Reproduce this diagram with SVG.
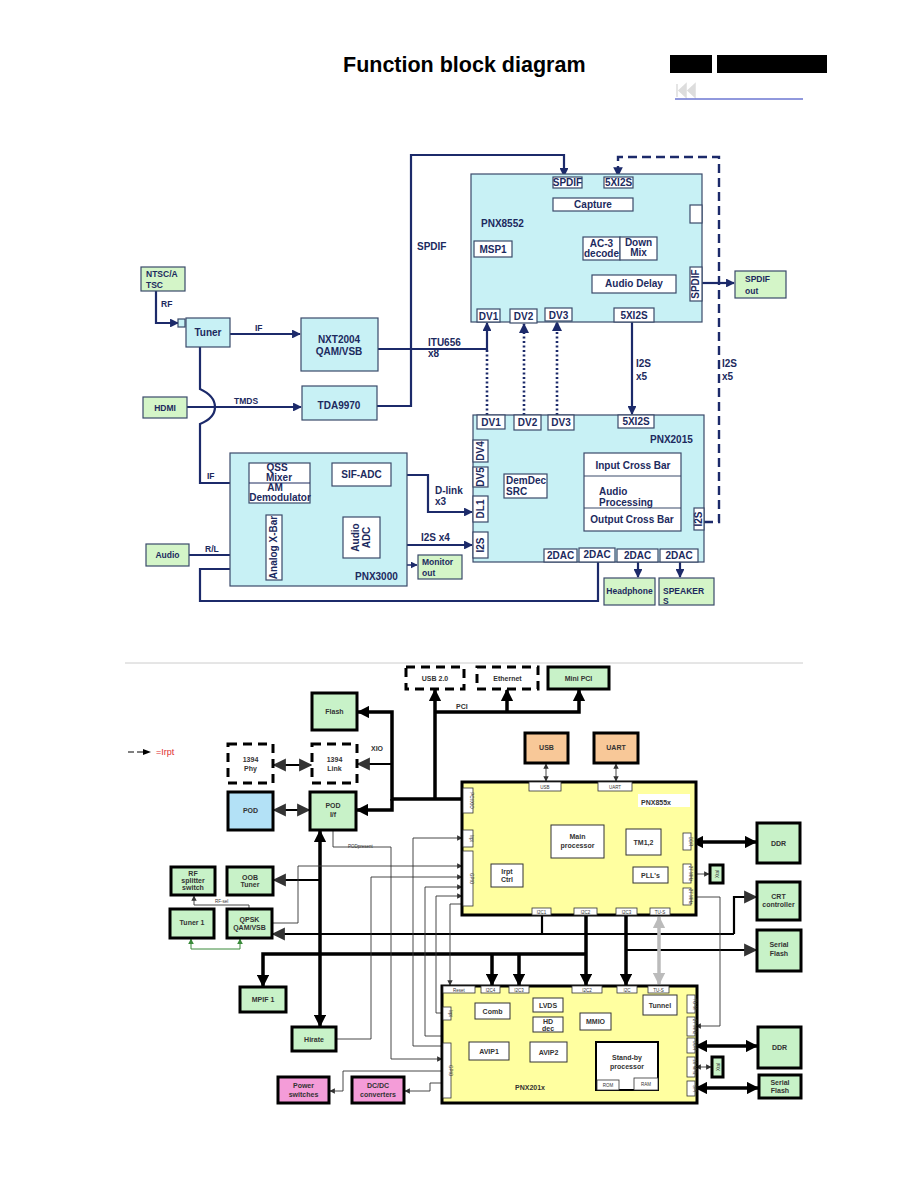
<svg xmlns="http://www.w3.org/2000/svg" width="918" height="1188" viewBox="0 0 918 1188">
<defs>
<style>
.t{font-family:"Liberation Sans",Arial,sans-serif;font-weight:bold;fill:#1c2a5e;font-size:10px}
.s{font-size:8.5px}
.k{font-family:"Liberation Sans",Arial,sans-serif;font-weight:bold;fill:#333;font-size:7px}
.kp{font-size:4.5px;font-weight:normal}
.cy{fill:#c8f1f5;stroke:#3a4a6a;stroke-width:1.2}
.gr{fill:#d4f5c8;stroke:#3a4a6a;stroke-width:1.2}
.wh{fill:#fff;stroke:#3a4a6a;stroke-width:1.2}
.c{fill:none;stroke:#1c2a6a;stroke-width:2.2}
.ci{fill:none;stroke:#1c2a6a;stroke-width:1.4}
.dot{fill:none;stroke:#1c2a6a;stroke-width:2.6;stroke-dasharray:2 2.5}
.dash{fill:none;stroke:#1c2a6a;stroke-width:2.4;stroke-dasharray:9 5}
.bg{fill:#c8f2c8;stroke:#000;stroke-width:3}
.bo{fill:#f8c898;stroke:#000;stroke-width:3}
.bp{fill:#f49cd8;stroke:#000;stroke-width:3}
.bb{fill:#b3e1f6;stroke:#000;stroke-width:3}
.bd{fill:#fff;stroke:#000;stroke-width:3;stroke-dasharray:9 6}
.by{fill:#ffffa0;stroke:#000;stroke-width:3}
.bw{fill:#fff;stroke:#333;stroke-width:0.8}
.bw2{fill:#fff;stroke:#333;stroke-width:1}
.L{fill:none;stroke:#000;stroke-width:3.5}
.M{fill:none;stroke:#000;stroke-width:2.2}
.T{fill:none;stroke:#333;stroke-width:0.9}
.G{fill:none;stroke:#bbb;stroke-width:3.5}
</style>
<marker id="a" viewBox="0 0 10 10" refX="9" refY="5" markerWidth="4" markerHeight="4" orient="auto"><path d="M0 0L10 5L0 10z" fill="#1c2a6a"/></marker>
<marker id="as" viewBox="0 0 10 10" refX="9" refY="5" markerWidth="5" markerHeight="5" orient="auto"><path d="M0 0L10 5L0 10z" fill="#1c2a6a"/></marker>
<marker id="b" viewBox="0 0 10 10" refX="9" refY="5" markerWidth="3.5" markerHeight="3.5" orient="auto-start-reverse"><path d="M0 0L10 5L0 10z" fill="#000"/></marker>
<marker id="bt" viewBox="0 0 10 10" refX="9" refY="5" markerWidth="6" markerHeight="6" orient="auto-start-reverse"><path d="M0 0L10 5L0 10z" fill="#333"/></marker>
<marker id="bg" viewBox="0 0 10 10" refX="9" refY="5" markerWidth="6" markerHeight="6" orient="auto-start-reverse"><path d="M0 0L10 5L0 10z" fill="#3a8a3a"/></marker>
<marker id="gy" viewBox="0 0 10 10" refX="9" refY="5" markerWidth="3.5" markerHeight="3.5" orient="auto-start-reverse"><path d="M0 0L10 5L0 10z" fill="#bbb"/></marker>
</defs>
<rect width="918" height="1188" fill="#fff"/>

<g id="header">
<text x="343" y="72" font-family="Liberation Sans,Arial,sans-serif" font-weight="bold" font-size="21.5" fill="#000">Function block diagram</text>
<rect x="670" y="55" width="42" height="18" fill="#000"/>
<rect x="717" y="55" width="110" height="18" fill="#000"/>
<path d="M677 84V97M686 84L679 90.5L686 97zM695 84L688 90.5L695 97z" fill="#ddd" stroke="#ddd" stroke-width="1.5"/>
<line x1="675" y1="99" x2="803" y2="99" stroke="#2233bb" stroke-width="1"/>
</g>

<g id="top-connectors">
<path class="c" d="M377 406H411V155H564V176" marker-end="url(#a)"/>
<path class="c" d="M378 349H487V323" marker-end="url(#a)"/>
<path class="c" d="M156 291V323H178" marker-end="url(#a)"/>
<path class="c" d="M230 334H300" marker-end="url(#a)"/>
<path class="c" d="M187 407H301" marker-end="url(#a)"/>
<path class="c" d="M200 347V389Q215 396 215 407Q215 418 200 424V483H248" marker-end="url(#a)"/>
<path class="ci" d="M310 473H331" marker-end="url(#as)"/>
<path class="c" d="M391 475H428V512H472" marker-end="url(#a)"/>
<path class="ci" d="M310 492H321V508H253V523H265" marker-end="url(#as)"/>
<path class="ci" d="M282 532H342" marker-end="url(#as)"/>
<path class="c" d="M380 545H472" marker-end="url(#a)"/>
<path class="ci" d="M282 565H417" marker-end="url(#as)"/>
<path class="c" d="M189 555H265" marker-end="url(#a)"/>
<path class="c" d="M598 562V601H200V569H265" marker-end="url(#a)"/>
<path class="dot" d="M487 350V415"/>
<path class="dot" d="M524 415V324" marker-end="url(#a)"/>
<path class="dot" d="M557 415V322" marker-end="url(#a)"/>
<path class="c" d="M632 322V414" marker-end="url(#a)"/>
<path class="dash" d="M704 522H719V157H618V176" marker-end="url(#a)"/>
<path class="ci" d="M567 188V197" marker-end="url(#as)"/>
<path class="ci" d="M618 188V197" marker-end="url(#as)"/>
<path class="ci" d="M512 249H582" marker-end="url(#as)"/>
<path class="ci" d="M604 260V274" marker-end="url(#as)"/>
<path class="ci" d="M641 260V274" marker-end="url(#as)"/>
<path class="ci" d="M633 204H663V274" marker-end="url(#as)"/>
<path class="ci" d="M631 293V307" marker-end="url(#as)"/>
<path class="ci" d="M491 309V258" marker-end="url(#as)"/>
<path class="c" d="M702 283H734" marker-end="url(#a)"/>
<path class="ci" d="M488 511H526V499" marker-end="url(#as)"/>
<path class="ci" d="M522 474V434H619V452" marker-end="url(#as)"/>
<path class="ci" d="M488 545H552V439H603V452" marker-end="url(#as)"/>
<path class="ci" d="M632 428V452" marker-end="url(#as)"/>
<path class="ci" d="M681 518H693" marker-end="url(#as)"/>
<path class="ci" d="M589 531V537H562V548" stroke-dasharray="3 2" marker-end="url(#as)"/>
<path class="ci" d="M600 531V548" marker-end="url(#as)"/>
<path class="ci" d="M635 531V548" marker-end="url(#as)"/>
<path class="ci" d="M670 531V548" marker-end="url(#as)"/>
<path class="c" d="M638 562V577" marker-end="url(#a)"/>
<path class="c" d="M680 562V577" marker-end="url(#a)"/>
</g>

<g id="top-labels">
<text class="t s" x="161" y="307">RF</text>
<text class="t s" x="255" y="331">IF</text>
<text class="t s" x="234" y="404">TMDS</text>
<text class="t" x="417" y="250">SPDIF</text>
<text class="t" x="428" y="346">ITU656</text>
<text class="t" x="428" y="357">x8</text>
<text class="t s" x="207" y="479">IF</text>
<text class="t" x="435" y="494">D-link</text>
<text class="t" x="435" y="505">x3</text>
<text class="t s" x="205" y="552">R/L</text>
<text class="t" x="421" y="541">I2S x4</text>
<text class="t" x="636" y="367">I2S</text>
<text class="t" x="636" y="380">x5</text>
<text class="t" x="722" y="367">I2S</text>
<text class="t" x="722" y="380">x5</text>
</g>

<g id="ntsc"><rect class="gr" x="141" y="267" width="44" height="24"/><text class="t s" x="146" y="277">NTSC/A</text><text class="t s" x="146" y="288">TSC</text></g>
<g id="tuner"><rect class="cy" x="178" y="319" width="7" height="8"/><rect class="cy" x="186" y="318" width="44" height="29"/><text class="t" x="208" y="336" text-anchor="middle">Tuner</text></g>
<g id="nxt2004"><rect class="cy" x="301" y="318" width="77" height="53"/><text class="t" x="339" y="343" text-anchor="middle">NXT2004</text><text class="t" x="339" y="355" text-anchor="middle">QAM/VSB</text></g>
<g id="tda9970"><rect class="cy" x="302" y="386" width="75" height="34"/><text class="t" x="339" y="409" text-anchor="middle">TDA9970</text></g>
<g id="hdmi"><rect class="gr" x="143" y="397" width="44" height="21"/><text class="t s" x="165" y="411" text-anchor="middle">HDMI</text></g>

<g id="pnx8552">
<rect class="cy" x="471" y="174" width="231" height="148"/>
<text class="t" x="481" y="227">PNX8552</text>
<rect class="wh" x="690" y="205" width="12" height="18"/>
</g>
<g id="spdif-in"><rect class="wh" x="553" y="177" width="29" height="11"/><text class="t" x="567.5" y="186" text-anchor="middle" font-size="7.5">SPDIF</text></g>
<g id="i2s-in"><rect class="wh" x="604" y="177" width="29" height="11"/><text class="t" x="618.5" y="186" text-anchor="middle" font-size="8">5XI2S</text></g>
<g id="capture"><rect class="wh" x="553" y="198" width="80" height="13"/><text class="t" x="593" y="208" text-anchor="middle" font-size="8">Capture</text></g>
<g id="msp1"><rect class="wh" x="474" y="241" width="38" height="16"/><text class="t" x="493" y="253" text-anchor="middle">MSP1</text></g>
<g id="ac3"><rect class="wh" x="583" y="237" width="37" height="23"/><text class="t" x="601.5" y="247" text-anchor="middle" font-size="8">AC-3</text><text class="t" x="601.5" y="257" text-anchor="middle" font-size="7">decode</text></g>
<g id="downmix"><rect class="wh" x="620" y="237" width="37" height="23"/><text class="t" x="638.5" y="246" text-anchor="middle" font-size="8">Down</text><text class="t" x="638.5" y="256" text-anchor="middle" font-size="8">Mix</text></g>
<g id="audiodelay"><rect class="wh" x="592" y="275" width="84" height="18"/><text class="t" x="634" y="287" text-anchor="middle" font-size="8">Audio Delay</text></g>
<g id="i2s-out8552"><rect class="wh" x="614" y="308" width="40" height="14"/><text class="t" x="634" y="319" text-anchor="middle" font-size="9">5XI2S</text></g>
<g id="dv1a"><rect class="wh" x="477" y="309" width="23" height="13"/><text class="t" x="488.5" y="320" text-anchor="middle" font-size="9">DV1</text></g>
<g id="dv2a"><rect class="wh" x="510" y="309" width="27" height="14"/><text class="t" x="523.5" y="320" text-anchor="middle" font-size="9">DV2</text></g>
<g id="dv3a"><rect class="wh" x="545" y="308" width="27" height="13"/><text class="t" x="558.5" y="319" text-anchor="middle" font-size="9">DV3</text></g>
<g id="spdif-port"><rect class="wh" x="690" y="267" width="12" height="34"/><text class="t" transform="translate(699 284) rotate(-90)" text-anchor="middle" font-size="7">SPDIF</text></g>
<g id="spdif-out"><rect class="gr" x="735" y="271" width="51" height="27"/><text class="t s" x="745" y="282">SPDIF</text><text class="t s" x="745" y="294">out</text></g>

<g id="pnx2015">
<rect class="cy" x="473" y="415" width="231" height="147"/>
<text class="t" x="650" y="443">PNX2015</text>
</g>
<g id="dv1b"><rect class="wh" x="477" y="415" width="28" height="14"/><text class="t" x="491" y="426" text-anchor="middle" font-size="9">DV1</text></g>
<g id="dv2b"><rect class="wh" x="514" y="415" width="27" height="15"/><text class="t" x="527.5" y="426" text-anchor="middle" font-size="9">DV2</text></g>
<g id="dv3b"><rect class="wh" x="548" y="415" width="26" height="15"/><text class="t" x="561" y="426" text-anchor="middle" font-size="9">DV3</text></g>
<g id="i2s-in2015"><rect class="wh" x="618" y="415" width="36" height="13"/><text class="t" x="636" y="425" text-anchor="middle" font-size="9">5XI2S</text></g>
<g id="dv4"><rect class="wh" x="473" y="440" width="15" height="22"/><text class="t" transform="translate(484 451) rotate(-90)" text-anchor="middle" font-size="8">DV4</text></g>
<g id="dv5"><rect class="wh" x="473" y="467" width="15" height="20"/><text class="t" transform="translate(484 477) rotate(-90)" text-anchor="middle" font-size="8">DV5</text></g>
<g id="dl1"><rect class="wh" x="473" y="496" width="15" height="26"/><text class="t" transform="translate(484 509) rotate(-90)" text-anchor="middle" font-size="8">DL1</text></g>
<g id="i2s-l"><rect class="wh" x="473" y="532" width="15" height="26"/><text class="t" transform="translate(484 545) rotate(-90)" text-anchor="middle" font-size="8">I2S</text></g>
<g id="demdec"><rect class="wh" x="504" y="474" width="43" height="24"/><text class="t" x="506" y="484" font-size="8.5">DemDec</text><text class="t" x="506" y="495">SRC</text></g>
<g id="audioproc">
<rect class="wh" x="584" y="453" width="97" height="78"/>
<line x1="584" y1="476" x2="681" y2="476" stroke="#3a4a6a" stroke-width="1.2"/>
<line x1="584" y1="508" x2="681" y2="508" stroke="#3a4a6a" stroke-width="1.2"/>
<text class="t" x="633" y="469" text-anchor="middle" font-size="8.5">Input Cross Bar</text>
<text class="t" x="599" y="495" font-size="8.5">Audio</text>
<text class="t" x="599" y="506" font-size="8.5">Processing</text>
<text class="t" x="632" y="523" text-anchor="middle" font-size="8.5">Output Cross Bar</text>
</g>
<g id="i2s-r"><rect class="wh" x="694" y="508" width="10" height="22"/><text class="t" transform="translate(702 519) rotate(-90)" text-anchor="middle" font-size="7.5">I2S</text></g>
<g id="dac1"><rect class="wh" x="544" y="549" width="33" height="13"/><text class="t" x="560.5" y="559" text-anchor="middle" font-size="8">2DAC</text></g>
<g id="dac2"><rect class="wh" x="579" y="548" width="36" height="14"/><text class="t" x="597" y="558" text-anchor="middle" font-size="8">2DAC</text></g>
<g id="dac3"><rect class="wh" x="617" y="549" width="41" height="13"/><text class="t" x="637.5" y="559" text-anchor="middle" font-size="8">2DAC</text></g>
<g id="dac4"><rect class="wh" x="660" y="549" width="38" height="13"/><text class="t" x="679" y="559" text-anchor="middle" font-size="8">2DAC</text></g>
<g id="headphone"><rect class="gr" x="604" y="578" width="51" height="27"/><text class="t s" x="629.5" y="594" text-anchor="middle">Headphone</text></g>
<g id="speakers"><rect class="gr" x="659" y="578" width="55" height="27"/><text class="t s" x="663" y="594">SPEAKER</text><text class="t s" x="663" y="604">S</text></g>

<g id="pnx3000">
<rect class="cy" x="230" y="453" width="177" height="133"/>
<text class="t" x="355" y="580">PNX3000</text>
</g>
<g id="qss"><rect class="wh" x="249" y="463" width="61" height="40"/><line x1="249" y1="483" x2="310" y2="483" stroke="#1c2a5e" stroke-width="1"/><text class="t" x="277" y="471" text-anchor="middle" font-size="7.5">QSS</text><text class="t" x="279" y="481" text-anchor="middle" font-size="7.5">Mixer</text><text class="t" x="275" y="491" text-anchor="middle" font-size="7.5">AM</text><text class="t" x="280" y="501" text-anchor="middle" font-size="7.5">Demodulator</text></g>
<g id="sifadc"><rect class="wh" x="332" y="463" width="59" height="23"/><text class="t" x="361.5" y="478" text-anchor="middle" font-size="8.5">SIF-ADC</text></g>
<g id="xbar"><rect class="wh" x="266" y="515" width="16" height="65"/><text class="t" transform="translate(277 547.5) rotate(-90)" text-anchor="middle" font-size="8.5">Analog X-Bar</text></g>
<g id="audioadc"><rect class="wh" x="343" y="517" width="37" height="41"/><text class="t" transform="translate(359 537.5) rotate(-90)" text-anchor="middle" font-size="9">Audio</text><text class="t" transform="translate(370 537.5) rotate(-90)" text-anchor="middle" font-size="9">ADC</text></g>
<g id="monitor"><rect class="gr" x="418" y="555" width="44" height="24"/><text class="t s" x="422" y="565">Monitor</text><text class="t s" x="422" y="576">out</text></g>
<g id="audio"><rect class="gr" x="146" y="544" width="43" height="22"/><text class="t s" x="167.5" y="558" text-anchor="middle">Audio</text></g>

<line id="separator" x1="125" y1="663" x2="803" y2="663" stroke="#ccc" stroke-width="1"/>

<g id="bottom-connectors">
<path class="L" d="M435 799V690" marker-end="url(#b)"/>
<path class="L" d="M435 712H579V690" marker-end="url(#b)"/>
<path class="L" d="M507 712V690" marker-end="url(#b)"/>
<path class="L" d="M462 799H392V712H358" marker-end="url(#b)"/>
<path class="M" d="M392 764H358" marker-end="url(#bt)"/>
<path class="L" d="M392 799V810H357" marker-end="url(#b)"/>
<path class="M" d="M274 765H311" marker-start="url(#bt)" marker-end="url(#bt)"/>
<path class="M" d="M274 810H309" marker-start="url(#bt)" marker-end="url(#bt)"/>
<path class="L" d="M320 831V1026" marker-start="url(#b)" marker-end="url(#b)"/>
<path class="M" d="M320 880H274" marker-end="url(#bt)"/>
<path class="M" d="M734 934H273" marker-end="url(#bt)"/>
<path class="M" d="M734 934V897H756" marker-end="url(#bt)"/>
<path class="M" d="M542 915V934"/>
<path class="L" d="M586 915V985" marker-end="url(#b)"/>
<path class="L" d="M586 954H263V986" marker-end="url(#b)"/>
<path class="L" d="M492 954V985" marker-end="url(#b)"/>
<path class="L" d="M519 954V985" marker-end="url(#b)"/>
<path class="L" d="M626 915V985" marker-end="url(#b)"/>
<path class="M" d="M626 950H756" marker-end="url(#bt)"/>
<path class="G" d="M659 917V984" marker-start="url(#gy)" marker-end="url(#gy)"/>
<path class="L" d="M692 842H756" marker-start="url(#b)" marker-end="url(#b)"/>
<path class="L" d="M696 1046H757" marker-start="url(#b)" marker-end="url(#b)"/>
<path class="L" d="M696 1088H758" marker-start="url(#b)" marker-end="url(#b)"/>
<path class="T" d="M546 764V781" marker-start="url(#bt)" marker-end="url(#bt)"/>
<path class="T" d="M616 764V781" marker-start="url(#bt)" marker-end="url(#bt)"/>
<path class="T" d="M546 792V805H560V824" marker-start="url(#bt)" marker-end="url(#bt)"/>
<path class="T" d="M616 792V805H588V824" marker-start="url(#bt)" marker-end="url(#bt)"/>
<path class="T" d="M669 874H682" marker-start="url(#bt)" marker-end="url(#bt)"/>
<path class="T" d="M692 874H709" marker-start="url(#bt)" marker-end="url(#bt)"/>
<path class="T" d="M651 883V896H682" marker-end="url(#bt)"/>
<path class="T" d="M691 897H720V1026H696" marker-end="url(#bt)"/>
<path class="T" d="M272 923H298V866H462" marker-end="url(#bt)"/>
<path class="T" d="M333 830V847H391V1059H442" marker-end="url(#bt)"/>
<path class="T" d="M336 1039H371V877H462" marker-end="url(#bt)"/>
<path class="T" d="M442 1046H413V838H462" marker-end="url(#bt)"/>
<path class="T" d="M442 1036H425V887H462" marker-end="url(#bt)"/>
<path class="T" d="M442 1013H436V896H462" marker-end="url(#bt)"/>
<path class="T" d="M462 904H450V985" marker-end="url(#bt)"/>
<path class="T" d="M443 1071H343V1091H330" marker-end="url(#bt)"/>
<path class="T" d="M443 1083H430V1091H405" marker-end="url(#bt)"/>
<path class="T" d="M249 909V905H194V896" marker-end="url(#bt)"/>
<path fill="none" stroke="#3a8a3a" stroke-width="1" d="M191 939V949H240V939" marker-start="url(#bg)" marker-end="url(#bg)"/>
<path class="T" d="M492 993V1002" marker-start="url(#bt)" marker-end="url(#bt)"/>
<path class="T" d="M513 993V1051H510" marker-end="url(#bt)"/>
<path class="T" d="M524 993V1052H529" marker-end="url(#bt)"/>
<path class="T" d="M469 1051H460V1008H452" marker-end="url(#bt)"/>
<path class="T" d="M533 1025H465V1011H452" marker-end="url(#bt)"/>
<path class="T" d="M545 1042V1036H470V1016H452" marker-end="url(#bt)"/>
<path class="T" d="M564 1005H575V1020H579" marker-start="url(#bt)" marker-end="url(#bt)"/>
<path class="T" d="M564 1025H579" marker-start="url(#bt)" marker-end="url(#bt)"/>
<path class="T" d="M584 993V1005H642" marker-end="url(#bt)"/>
<path class="T" d="M627 994V1041" marker-start="url(#bt)" marker-end="url(#bt)"/>
<path class="T" d="M660 1015V1022H612" marker-end="url(#bt)"/>
<path class="T" d="M452 1072H590V1066H595" marker-start="url(#bt)" marker-end="url(#bt)"/>
<path class="T" d="M659 1067H686" marker-start="url(#bt)" marker-end="url(#bt)"/>
<path class="T" d="M659 1083H672V1088H686" marker-start="url(#bt)" marker-end="url(#bt)"/>
<path class="T" d="M696 1067H711" marker-start="url(#bt)" marker-end="url(#bt)"/>
</g>

<g id="legend">
<path d="M128 752H134M137 752H143" stroke="#000" stroke-width="1"/>
<path d="M143 749L151 752L143 755z" fill="#000"/>
<text x="156" y="755" font-family="Liberation Sans,Arial,sans-serif" font-size="9" fill="#e03030">=Irpt</text>
</g>
<text class="k" x="371" y="751" font-size="9">XIO</text>
<text class="k" x="456" y="709" font-size="9">PCI</text>
<text class="k kp" x="348" y="848">PODpresent</text>
<text class="k kp" x="215" y="903">RF-sel</text>

<g id="usb20"><rect class="bd" x="406" y="667" width="58" height="22"/><text class="k" x="435" y="681" text-anchor="middle" font-size="6">USB 2.0</text></g>
<g id="ethernet"><rect class="bd" x="477" y="667" width="61" height="22"/><text class="k" x="507.5" y="681" text-anchor="middle" font-size="6">Ethernet</text></g>
<g id="minipci"><rect class="bg" x="548" y="667" width="61" height="22"/><text class="k" x="578.5" y="681" text-anchor="middle" font-size="6">Mini PCI</text></g>
<g id="flash"><rect class="bg" x="312" y="693" width="45" height="37"/><text class="k" x="334.5" y="714" text-anchor="middle" font-size="6.5">Flash</text></g>
<g id="phy1394"><rect class="bd" x="228" y="744" width="45" height="39"/><text class="k" x="250.5" y="762" text-anchor="middle" font-size="6">1394</text><text class="k" x="250.5" y="771" text-anchor="middle" font-size="6">Phy</text></g>
<g id="link1394"><rect class="bd" x="312" y="744" width="45" height="39"/><text class="k" x="334.5" y="762" text-anchor="middle" font-size="6">1394</text><text class="k" x="334.5" y="771" text-anchor="middle" font-size="6">Link</text></g>
<g id="pod"><rect class="bb" x="228" y="792" width="45" height="38"/><text class="k" x="250.5" y="813" text-anchor="middle" font-size="6.5">POD</text></g>
<g id="podif"><rect class="bg" x="310" y="792" width="46" height="38"/><text class="k" x="333" y="808" text-anchor="middle" font-size="6.5">POD</text><text class="k" x="333" y="817" text-anchor="middle" font-size="6.5">I/f</text></g>
<g id="rfsplitter"><rect class="bg" x="171" y="867" width="44" height="28"/><text class="k" x="193" y="876" text-anchor="middle" font-size="6">RF</text><text class="k" x="193" y="883" text-anchor="middle" font-size="6">splitter</text><text class="k" x="193" y="890" text-anchor="middle" font-size="6">switch</text></g>
<g id="oobtuner"><rect class="bg" x="227" y="867" width="46" height="28"/><text class="k" x="250" y="880" text-anchor="middle" font-size="6">OOB</text><text class="k" x="250" y="887" text-anchor="middle" font-size="6">Tuner</text></g>
<g id="tuner1"><rect class="bg" x="170" y="909" width="44" height="29"/><text class="k" x="192" y="925" text-anchor="middle" font-size="6.5">Tuner 1</text></g>
<g id="qpsk"><rect class="bg" x="227" y="909" width="45" height="29"/><text class="k" x="249.5" y="922" text-anchor="middle" font-size="6.5">QPSK</text><text class="k" x="249.5" y="930" text-anchor="middle" font-size="6.5">QAM/VSB</text></g>
<g id="mpif1"><rect class="bg" x="240" y="987" width="46" height="25"/><text class="k" x="263" y="1002" text-anchor="middle" font-size="6.5">MPIF 1</text></g>
<g id="hirate"><rect class="bg" x="292" y="1027" width="44" height="24"/><text class="k" x="314" y="1042" text-anchor="middle" font-size="6.5">Hirate</text></g>
<g id="power"><rect class="bp" x="278" y="1077" width="51" height="26"/><text class="k" x="303.5" y="1088" text-anchor="middle" font-size="6.5" fill="#5a1a4a">Power</text><text class="k" x="303.5" y="1097" text-anchor="middle" font-size="6.5" fill="#5a1a4a">switches</text></g>
<g id="dcdc"><rect class="bp" x="352" y="1077" width="52" height="26"/><text class="k" x="378" y="1088" text-anchor="middle" font-size="6.5" fill="#5a1a4a">DC/DC</text><text class="k" x="378" y="1097" text-anchor="middle" font-size="6.5" fill="#5a1a4a">converters</text></g>
<g id="usb"><rect class="bo" x="525" y="733" width="43" height="30"/><text class="k" x="546.5" y="750" text-anchor="middle" font-size="6.5">USB</text></g>
<g id="uart"><rect class="bo" x="594" y="733" width="44" height="30"/><text class="k" x="616" y="750" text-anchor="middle" font-size="6.5">UART</text></g>

<g id="pnx855x">
<rect class="by" x="462" y="782" width="234" height="133"/>
<rect class="bw" x="529" y="782" width="32" height="9"/><text class="k kp" x="545" y="789" text-anchor="middle">USB</text>
<rect class="bw" x="598" y="782" width="34" height="9"/><text class="k kp" x="615" y="789" text-anchor="middle">UART</text>
<rect x="638" y="794" width="52" height="13" fill="#fff"/>
<text class="k" x="641" y="805" font-size="8.5">PNX855x</text>
<rect class="bw2" x="551" y="825" width="53" height="33"/><text class="k" x="577.5" y="839" text-anchor="middle" font-size="6">Main</text><text class="k" x="577.5" y="848" text-anchor="middle" font-size="6">processor</text>
<rect class="bw2" x="626" y="829" width="35" height="26"/><text class="k" x="643.5" y="845" text-anchor="middle" font-size="6.5">TM1,2</text>
<rect class="bw2" x="491" y="864" width="32" height="23"/><text class="k" x="507" y="874" text-anchor="middle" font-size="6">Irpt</text><text class="k" x="507" y="882" text-anchor="middle" font-size="6">Ctrl</text>
<rect class="bw2" x="633" y="867" width="35" height="16"/><text class="k" x="650.5" y="878" text-anchor="middle" font-size="6.5">PLL's</text>
<rect class="bw" x="463" y="788" width="10" height="25"/><text class="k kp" transform="translate(470 800.5) rotate(90)" text-anchor="middle">PCI/XIO</text>
<rect class="bw" x="463" y="830" width="10" height="17"/><text class="k kp" transform="translate(470 838.5) rotate(90)" text-anchor="middle">Irpt</text>
<rect class="bw" x="463" y="851" width="10" height="55"/><text class="k kp" transform="translate(470 878.5) rotate(90)" text-anchor="middle">GPIO</text>
<rect class="bw" x="683" y="833" width="8" height="17"/><text class="k kp" transform="translate(689 841.5) rotate(90)" text-anchor="middle">DDR</text>
<rect class="bw" x="683" y="864" width="8" height="19"/><text class="k kp" transform="translate(689 873.5) rotate(90)" text-anchor="middle">27 MHz</text>
<rect class="bw" x="683" y="888" width="8" height="17"/><text class="k kp" transform="translate(689 896.5) rotate(90)" text-anchor="middle">27 MHz</text>
<rect class="bw" x="532" y="908" width="19" height="7"/><text class="k kp" x="541.5" y="914" text-anchor="middle">I2C1</text>
<rect class="bw" x="574" y="908" width="23" height="7"/><text class="k kp" x="585.5" y="914" text-anchor="middle">I2C2</text>
<rect class="bw" x="616" y="908" width="21" height="7"/><text class="k kp" x="626.5" y="914" text-anchor="middle">I2C3</text>
<rect class="bw" x="650" y="908" width="20" height="7"/><text class="k kp" x="660" y="914" text-anchor="middle">TU-S</text>
</g>
<g id="xtal1"><rect class="bg" x="710" y="865" width="13" height="18" stroke-width="2"/><text class="k kp" transform="translate(718.5 874) rotate(-90)" text-anchor="middle">Xtal</text></g>
<g id="ddr1"><rect class="bg" x="757" y="823" width="43" height="40"/><text class="k" x="778.5" y="846" text-anchor="middle" font-size="6.5">DDR</text></g>
<g id="crt"><rect class="bg" x="757" y="882" width="43" height="38"/><text class="k" x="778.5" y="899" text-anchor="middle" font-size="6.5">CRT</text><text class="k" x="778.5" y="907" text-anchor="middle" font-size="6.5">controller</text></g>
<g id="serialflash1"><rect class="bg" x="757" y="930" width="44" height="41"/><text class="k" x="779" y="947" text-anchor="middle" font-size="6.5">Serial</text><text class="k" x="779" y="956" text-anchor="middle" font-size="6.5">Flash</text></g>

<g id="pnx201x">
<rect class="by" x="442" y="986" width="255" height="117"/>
<rect class="bw" x="443" y="986" width="32" height="7"/><text class="k kp" x="459" y="992" text-anchor="middle">Reset</text>
<rect class="bw" x="481" y="986" width="19" height="7"/><text class="k kp" x="490.5" y="992" text-anchor="middle">I2C4</text>
<rect class="bw" x="509" y="986" width="20" height="7"/><text class="k kp" x="519" y="992" text-anchor="middle">I2C3</text>
<rect class="bw" x="572" y="986" width="30" height="7"/><text class="k kp" x="587" y="992" text-anchor="middle">I2C2</text>
<rect class="bw" x="617" y="986" width="20" height="7"/><text class="k kp" x="627" y="992" text-anchor="middle">I2C</text>
<rect class="bw" x="648" y="986" width="21" height="7"/><text class="k kp" x="658.5" y="992" text-anchor="middle">TU-S</text>
<rect class="bw" x="687" y="995" width="8" height="18"/><text class="k kp" transform="translate(693 1004) rotate(90)" text-anchor="middle">TU-M</text>
<rect class="bw" x="687" y="1017" width="8" height="19"/><text class="k kp" transform="translate(693 1026.5) rotate(90)" text-anchor="middle">27 MHz</text>
<rect class="bw" x="687" y="1038" width="8" height="15"/><text class="k kp" transform="translate(693 1045.5) rotate(90)" text-anchor="middle">DDR</text>
<rect class="bw" x="687" y="1057" width="8" height="20"/><text class="k kp" transform="translate(693 1067) rotate(90)" text-anchor="middle">16 MHz</text>
<rect class="bw" x="687" y="1081" width="8" height="15"/><text class="k kp" transform="translate(693 1088.5) rotate(90)" text-anchor="middle">SPI</text>
<rect class="bw" x="443" y="1007" width="8" height="13"/><text class="k kp" transform="translate(449 1013.5) rotate(90)" text-anchor="middle">Irpt</text>
<rect class="bw" x="443" y="1043" width="8" height="55"/><text class="k kp" transform="translate(449 1070.5) rotate(90)" text-anchor="middle">GPIO</text>
<rect class="bw2" x="475" y="1003" width="35" height="16"/><text class="k" x="492.5" y="1014" text-anchor="middle" font-size="6.5">Comb</text>
<rect class="bw2" x="533" y="998" width="30" height="14"/><text class="k" x="548" y="1008" text-anchor="middle" font-size="6.5">LVDS</text>
<rect class="bw2" x="533" y="1017" width="30" height="15"/><text class="k" x="548" y="1024" text-anchor="middle" font-size="6">HD</text><text class="k" x="548" y="1031" text-anchor="middle" font-size="6">dec</text>
<rect class="bw2" x="580" y="1013" width="31" height="17"/><text class="k" x="595.5" y="1024" text-anchor="middle" font-size="6.5">MMIO</text>
<rect class="bw2" x="643" y="995" width="34" height="20"/><text class="k" x="660" y="1008" text-anchor="middle" font-size="6.5">Tunnel</text>
<rect class="bw2" x="469" y="1042" width="40" height="18"/><text class="k" x="489" y="1054" text-anchor="middle" font-size="6.5">AVIP1</text>
<rect class="bw2" x="530" y="1042" width="37" height="20"/><text class="k" x="548.5" y="1055" text-anchor="middle" font-size="6.5">AVIP2</text>
<rect x="596" y="1042" width="62" height="48" fill="#fff" stroke="#000" stroke-width="2"/>
<text class="k" x="627" y="1060" text-anchor="middle" font-size="6.5">Stand-by</text><text class="k" x="627" y="1069" text-anchor="middle" font-size="6.5">processor</text>
<rect class="bw" x="597" y="1080" width="22" height="10"/><text class="k kp" x="608" y="1087" text-anchor="middle">ROM</text>
<rect class="bw" x="634" y="1078" width="24" height="12"/><text class="k kp" x="646" y="1086" text-anchor="middle">RAM</text>
<text class="k" x="530" y="1090" text-anchor="middle" font-size="8.5">PNX201x</text>
</g>
<g id="xtal2"><rect class="bg" x="712" y="1057" width="11" height="20" stroke-width="2"/><text class="k kp" transform="translate(719.5 1067) rotate(-90)" text-anchor="middle">Xtal</text></g>
<g id="ddr2"><rect class="bg" x="758" y="1027" width="43" height="41"/><text class="k" x="779.5" y="1050" text-anchor="middle" font-size="6.5">DDR</text></g>
<g id="serialflash2"><rect class="bg" x="759" y="1075" width="42" height="23"/><text class="k" x="780" y="1085" text-anchor="middle" font-size="6.5">Serial</text><text class="k" x="780" y="1093" text-anchor="middle" font-size="6.5">Flash</text></g>
</svg>
